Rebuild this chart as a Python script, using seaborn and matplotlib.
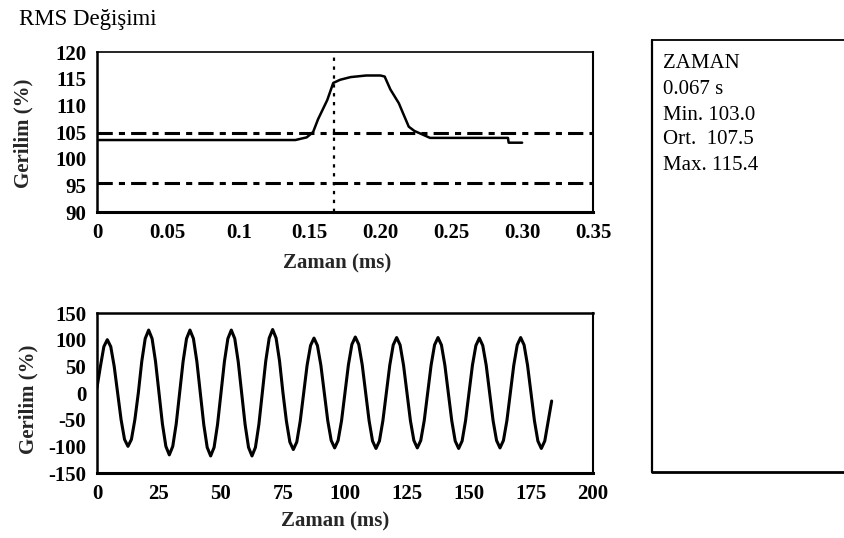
import numpy as np
import pandas as pd
import matplotlib
matplotlib.use("Agg")
import matplotlib.pyplot as plt
import seaborn as sns
from matplotlib import font_manager as fm
from matplotlib.lines import Line2D

# ---------------- data ----------------
title_text = "RMS Değişimi"

rms_time = [0.0, 0.14, 0.148, 0.1525, 0.156, 0.1625, 0.1667, 0.1716, 0.179, 0.19, 0.2,
            0.203, 0.207, 0.213, 0.216, 0.22, 0.224, 0.23, 0.235, 0.29, 0.2905, 0.30]
rms_value = [103.5, 103.5, 104.0, 105.0, 107.4, 111.0, 114.2, 114.8, 115.3, 115.6, 115.6,
             115.4, 113.0, 110.4, 108.5, 106.0, 105.2, 104.5, 103.9, 103.9, 103.0, 103.0]
cursor_time = 0.167
limit_upper = 104.8
limit_lower = 95.4

rms_xticks = [0, 0.05, 0.10, 0.15, 0.20, 0.25, 0.30, 0.35]
rms_xticklabels = ["0", "0.05", "0.1", "0.15", "0.20", "0.25", "0.30", "0.35"]
rms_yticks = [90, 95, 100, 105, 110, 115, 120]

wave_dt = 1000.0 / 60.0 / 12.0   # ms between samples
wave_value = [
    10, 50, 87, 100, 87, 50, 0, -50, -87, -100, -87, -50,
    0, 59, 102, 118, 102, 59, 0, -58, -100, -116, -100, -58,
    0, 59, 102, 118, 102, 59, 0, -59, -102, -118, -102, -59,
    0, 59, 102, 118, 102, 59, 0, -59, -102, -118, -102, -59,
    0, 60, 103, 119, 103, 60, 0, -53, -92, -106, -92, -53,
    0, 52, 89, 103, 89, 52, 0, -52, -89, -103, -89, -52,
    0, 53, 91, 105, 91, 53, 0, -52, -90, -104, -90, -52,
    0, 52, 90, 104, 90, 52, 0, -52, -89, -103, -89, -52,
    0, 52, 90, 104, 90, 52, 0, -52, -90, -104, -90, -52,
    0, 52, 89, 103, 89, 52, 0, -52, -89, -103, -89, -52,
    0, 52, 90, 104, 90, 52, 0, -52, -90, -104, -90, -52, -15,
]
wave_xticks = [0, 25, 50, 75, 100, 125, 150, 175, 200]
wave_yticks = [-150, -100, -50, 0, 50, 100, 150]

xlabel_text = "Zaman (ms)"
ylabel_text = "Gerilim (%)"
info_lines = ["ZAMAN", "0.067 s", "Min. 103.0", "Ort.  107.5", "Max. 115.4"]

# ---------------- style ----------------
sns.set_theme(style="white")
plt.rcParams["font.family"] = ["Liberation Serif", "DejaVu Serif"]
names = {f.name for f in fm.fontManager.ttflist}
tick_family = "Liberation Sans Narrow" if "Liberation Sans Narrow" in names else "Liberation Serif"

fig = plt.figure(figsize=(8.44, 5.38), dpi=100)
fig.patch.set_facecolor("white")

ax1 = fig.add_axes([0.1149, 0.6059, 0.5877, 0.2974])
ax2 = fig.add_axes([0.1149, 0.1208, 0.5877, 0.2974])

rms_df = pd.DataFrame({"t": rms_time, "v": rms_value})
sns.lineplot(data=rms_df, x="t", y="v", ax=ax1, color="black", linewidth=1.8, sort=False)
ax1.axhline(limit_upper, color="black", linewidth=2.2, linestyle=(0, (5, 2, 2, 2)))
ax1.axhline(limit_lower, color="black", linewidth=2.2, linestyle=(0, (5, 2, 2, 2)))
ax1.axvline(cursor_time, color="black", linewidth=1.6, linestyle=(0, (1.5, 2.5)))

wave_time = np.arange(len(wave_value)) * wave_dt
wave_df = pd.DataFrame({"t": wave_time, "v": wave_value})
sns.lineplot(data=wave_df, x="t", y="v", ax=ax2, color="black", linewidth=2.2, sort=False)

ax1.set_xlim(0, 0.35)
ax1.set_ylim(90, 120)
ax1.set_xticks(rms_xticks)
ax1.set_xticklabels(rms_xticklabels)
ax1.set_yticks(rms_yticks)
ax1.set_yticklabels([str(v) for v in rms_yticks])

ax2.set_xlim(0, 200)
ax2.set_ylim(-150, 150)
ax2.set_xticks(wave_xticks)
ax2.set_xticklabels([str(v) for v in wave_xticks])
ax2.set_yticks(wave_yticks)
ax2.set_yticklabels([str(v) for v in wave_yticks])

for ax, xl_y, xl_x, yl_x, yl_y in [(ax1, -0.32, 0.484, -0.149, 0.49),
                                   (ax2, -0.30, 0.480, -0.139, 0.46)]:
    ax.set_facecolor("white")
    ax.grid(False)
    ax.set_xlabel(xlabel_text, fontsize=15, fontweight="bold")
    ax.set_ylabel(ylabel_text, fontsize=15, fontweight="bold")
    ax.xaxis.set_label_coords(xl_x, xl_y)
    ax.yaxis.set_label_coords(yl_x, yl_y)
    ax.xaxis.label.set_va("center")
    ax.yaxis.label.set_va("center")
    ax.tick_params(axis="both", direction="inout", length=11.5, width=1.8,
                   color="black", labelcolor="black", labelsize=15, pad=2.0)
    for lab in ax.get_xticklabels() + ax.get_yticklabels():
        lab.set_fontfamily(tick_family)
        lab.set_fontweight("bold")
    for side, lw in [("left", 1.8), ("bottom", 2.2), ("right", 1.5), ("top", 1.2)]:
        ax.spines[side].set_visible(True)
        ax.spines[side].set_color("black")
        ax.spines[side].set_linewidth(lw)

ax2.spines["top"].set_linewidth(1.8)

fig.text(0.0225, 0.963, title_text, fontsize=16.5, ha="left", va="center", color="black")

# info panel (extends past right edge)
bx0, by0, by1 = 0.7725, 0.1227, 0.9257
fig.add_artist(Line2D([bx0, 1.01], [by1, by1], transform=fig.transFigure, color="black", lw=1.3))
fig.add_artist(Line2D([bx0, bx0], [by0, by1], transform=fig.transFigure, color="black", lw=1.6))
fig.add_artist(Line2D([bx0, 1.01], [by0, by0], transform=fig.transFigure, color="black", lw=2.0))

info_y = [63, 90, 115, 140, 166]
for txt, py in zip(info_lines, info_y):
    fig.text(0.7855, 1 - py / 538.0, txt, fontsize=15, ha="left", va="center", color="black")

fig.savefig("out.png", dpi=100)
